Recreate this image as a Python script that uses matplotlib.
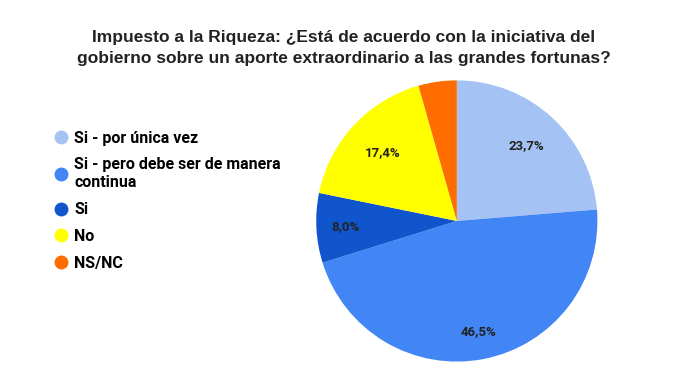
import matplotlib
matplotlib.use('Agg')
import matplotlib.pyplot as plt
from matplotlib.lines import Line2D

TITLE = ("Impuesto a la Riqueza: ¿Está de acuerdo con la iniciativa del\n"
         "gobierno sobre un aporte extraordinario a las grandes fortunas?")
labels = ["Si - por única vez", "Si - pero debe ser de manera\ncontinua",
          "Si", "No", "NS/NC"]
values = [23.7, 46.5, 8.0, 17.4, 4.4]
colors = ["#a4c2f4", "#4285f4", "#1155cc", "#ffff00", "#ff6d01"]
label_radius = [0.73, 0.80, 0.79, 0.72, 0.75]  # where each % label sits


def fmt_pct(pct):
    if pct < 5:
        return ""
    return f"{pct:.1f}%".replace(".", ",")


fig = plt.figure(figsize=(6.88, 3.87), dpi=100)
fig.patch.set_facecolor("white")

fig.text(0.5, 0.83, TITLE, ha="center", va="bottom", fontsize=12.5,
         fontweight="bold", family="Liberation Sans", color="#222222",
         linespacing=1.45)

# pie: centre ~ (457, 221) px, radius ~142 px
ax = fig.add_axes([0.664 - 0.2064, 0.429 - 0.367, 0.4128, 0.734])
wedges, texts, autotexts = ax.pie(
    values, colors=colors, startangle=90, counterclock=False,
    autopct=fmt_pct, pctdistance=1.0,
    wedgeprops=dict(linewidth=0),
    textprops=dict(fontsize=9.5, fontweight="bold", family="Roboto", color="#222222"))
for t, r in zip(autotexts, label_radius):
    x, y = t.get_position()
    t.set_position((x * r, y * r))
ax.set_xlim(-1.01, 1.01)
ax.set_ylim(-1.01, 1.01)
ax.set_aspect("equal")

handles = [Line2D([0], [0], marker="o", linestyle="none", markersize=9,
                  markerfacecolor=c, markeredgecolor=c) for c in colors]
leg = fig.legend(handles, labels, loc="upper left", bbox_to_anchor=(0.073, 0.679),
                 frameon=False, handlelength=0.6, handletextpad=0.5,
                 labelspacing=0.74, borderaxespad=0,
                 prop=dict(family="Roboto", weight="bold", size=11.5))
for t in leg.get_texts():
    t.set_linespacing(1.25)

fig.savefig("out.png", dpi=100)
plt.close(fig)
